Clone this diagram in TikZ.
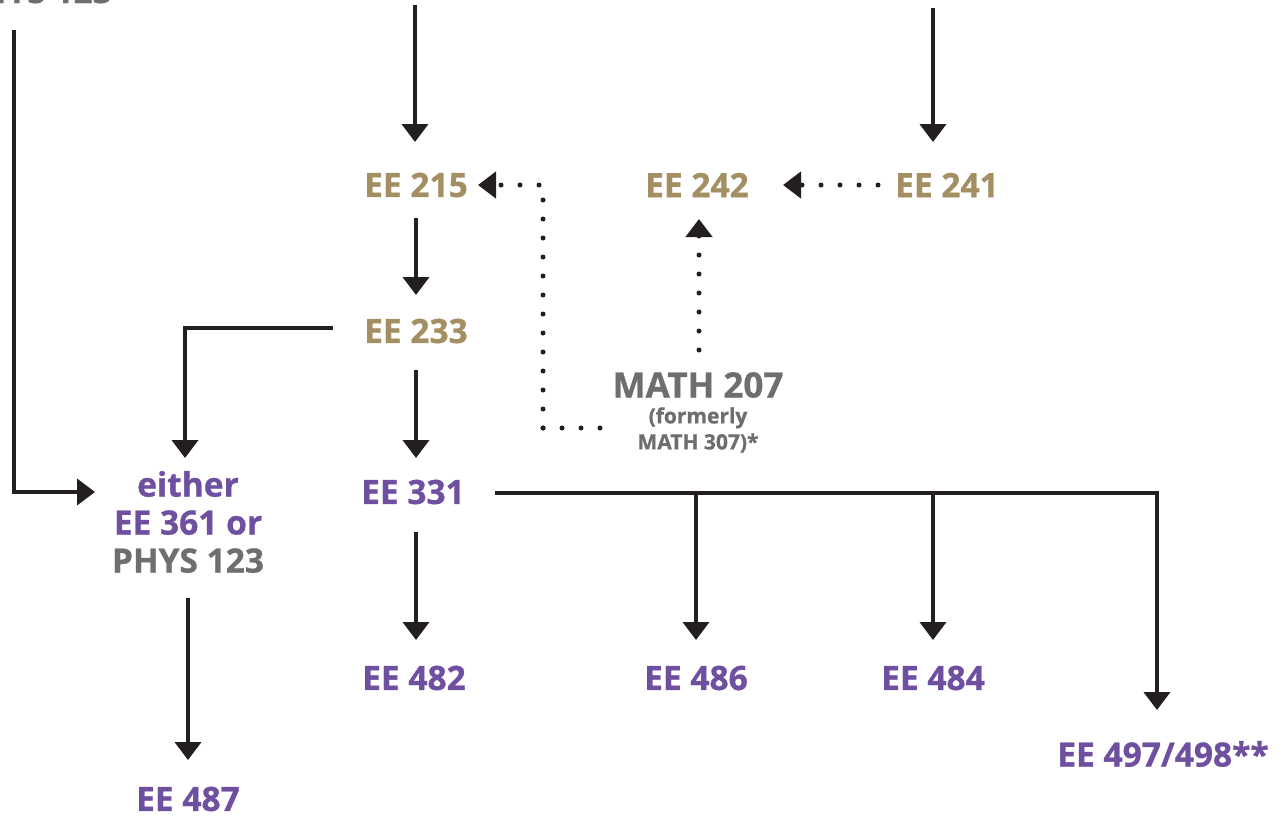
\documentclass[tikz,border=0pt]{standalone}
\usepackage{fontspec}
\setmainfont{Open Sans}[BoldFeatures={FakeBold=0.8}]
\usetikzlibrary{arrows.meta}
\definecolor{uwgold}{HTML}{A38F62}
\definecolor{uwpurple}{HTML}{6F4FA0}
\definecolor{uwgray}{HTML}{6E6E6E}
\definecolor{ink}{HTML}{231F20}
\tikzset{
  course/.style={font=\fontsize{33.5}{38}\selectfont\bfseries, inner sep=0pt, align=center},
  small/.style={font=\fontsize{21}{26}\selectfont\bfseries, inner sep=0pt, align=center, text=uwgray},
  gold/.style={course, text=uwgold},
  purple/.style={course, text=uwpurple},
  grey/.style={course, text=uwgray},
  solidarrow/.style={draw=ink, line width=4pt, -{Triangle[width=26pt,length=18pt]}},
  solidline/.style={draw=ink, line width=4pt},
  dotline/.style={draw=ink, line width=5pt, line cap=round, dash pattern=on 0pt off 19pt},
  dotarrow/.style={dotline, -{Triangle[width=26pt,length=18pt,line cap=butt]}},
}
\begin{document}
\begin{tikzpicture}[x=1pt,y=-1pt]
\useasboundingbox[fill=white] (0,0) rectangle (1283,817);
% partial text at top left
\node[grey, anchor=base east] (phystop) at (112,3) {PHYS 123};
% top entry points
\coordinate (topA) at (415,5);
\coordinate (topB) at (933,8);
\coordinate (leftTop) at (14,30);
% nodes
\node[gold] (ee215) at (416,185) {EE 215};
\node[gold] (ee242) at (697,185) {EE 242};
\node[gold] (ee241) at (947,185) {EE 241};
\node[gold] (ee233) at (416,331) {EE 233};
\node[purple] (ee331) at (413,492) {EE 331};
\node[grey, font=\fontsize{35}{38}\selectfont\bfseries] (math) at (698,385) {MATH 207};
\node[small] (mathsub) at (698,430) {(formerly\\MATH 307)*};
\node[course] (either) at (188,522) {\textcolor{uwpurple}{either}\\\textcolor{uwpurple}{EE 361 or}\\\textcolor{uwgray}{PHYS 123}};
\node[purple] (ee487) at (188,799) {EE 487};
\node[purple] (ee482) at (414,678) {EE 482};
\node[purple] (ee486) at (696,678) {EE 486};
\node[purple] (ee484) at (933,678) {EE 484};
\node[purple] (ee497) at (1163,754) {EE 497/498**};
% solid connectors
\draw[solidarrow] (topA) -- (415,142);
\draw[solidarrow] (topB) -- (933,142);
\draw[solidarrow] (416,218) -- (416,295);
\draw[solidarrow] (416,370) -- (416,458);
\draw[solidarrow] (333,328) -- (185,328) -- (185,458);
\draw[solidarrow] (leftTop) -- (14,492) -- (95,492);
\draw[solidarrow] (188,598) -- (188,760);
\draw[solidarrow] (416,532) -- (416,640);
\draw[solidline] (495,493) -- (1157,493);
\draw[solidarrow] (696,493) -- (696,640);
\draw[solidarrow] (933,493) -- (933,640);
\draw[solidarrow] (1157,491) -- (1157,710);
% dotted connectors
\draw[dotarrow] (543,428) -- (543,185) -- (478,185);
\draw[dotline] (543,428) -- (603,428);
\draw[dotarrow] (878,185) -- (783,185);
\draw[dotarrow] (699,350) -- (699,219);
\end{tikzpicture}
\end{document}
